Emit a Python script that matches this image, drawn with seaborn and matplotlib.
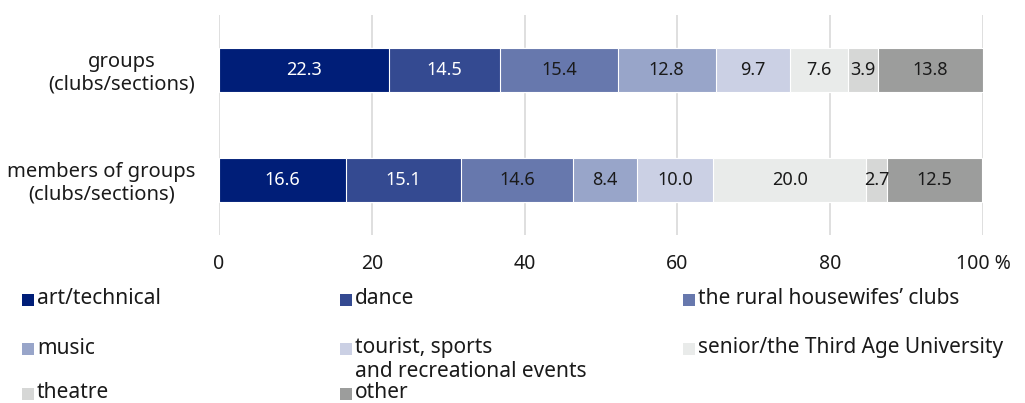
import matplotlib
matplotlib.use("Agg")
import matplotlib.pyplot as plt
import seaborn as sns
import pandas as pd
import numpy as np
from matplotlib.patches import Rectangle

rows = ["groups\n(clubs/sections)", "members of groups\n(clubs/sections)"]
series = ["art/technical", "dance", "the rural housewifes’ clubs", "music",
          "tourist, sports\nand recreational events", "senior/the Third Age University",
          "theatre", "other"]
groups_vals = [22.3, 14.5, 15.4, 12.8, 9.7, 7.6, 3.9, 13.8]
members_vals = [16.6, 15.1, 14.6, 8.4, 10.0, 20.0, 2.7, 12.5]
colors = ["#001e78", "#344a91", "#6778ad", "#98a5c9", "#cbd0e4", "#e9ebea", "#d6d7d6", "#9c9d9c"]
text_colors = ["white", "white", "#1a1a1a", "#1a1a1a", "#1a1a1a", "#1a1a1a", "#1a1a1a", "#1a1a1a"]
xticks = [0, 20, 40, 60, 80, 100]
xticklabels = ["0", "20", "40", "60", "80", "100 %"]

sns.set_theme(style="white")
plt.rcParams["font.family"] = ["Noto Sans", "DejaVu Sans"]

vals = np.array([groups_vals, members_vals])
cum = vals.cumsum(axis=1)

fig = plt.figure(figsize=(10.25, 4.03), dpi=100)
ax = fig.add_axes([219/1025, 1-235/403, (983-219)/1025, 220/403])

for i in reversed(range(len(series))):
    df = pd.DataFrame({"row": rows, "value": cum[:, i]})
    sns.barplot(data=df, x="value", y="row", color=colors[i], width=0.4,
                edgecolor="white", linewidth=0.8, saturation=1, ax=ax, zorder=2)

for r in range(len(rows)):
    for i in range(len(series)):
        ax.text(cum[r, i] - vals[r, i]/2, r, f"{vals[r, i]:.1f}", ha="center", va="center",
                color=text_colors[i], fontsize=13, zorder=3)

ax.set_xlim(0, 100)
ax.set_ylim(1.5, -0.5)
ax.set_xticks(xticks)
ax.set_xticklabels(xticklabels, fontsize=14, color="#1a1a1a")
ax.tick_params(axis="x", length=0, pad=14)
ax.tick_params(axis="y", length=0, pad=17)
for lab in ax.get_yticklabels():
    lab.set_multialignment("center")
    lab.set_fontsize(14.5)
    lab.set_color("#1a1a1a")
    lab.set_linespacing(1.15)
ax.set_xlabel("")
ax.set_ylabel("")
ax.grid(axis="x", color="#d9d9d9", linewidth=1.2, zorder=0)
ax.set_axisbelow(True)
for s in ax.spines.values():
    s.set_visible(False)

# legend laid out as grid
col_x = [22, 340, 683]
row_y = [300, 349, 394]
W, H = 1025, 403
for k, name in enumerate(series):
    r, c = divmod(k, 3)
    x = col_x[c]; y = row_y[r]
    fig.patches.append(Rectangle((x/W, 1-(y+6)/H), 12/W, 12/H, transform=fig.transFigure,
                                 facecolor=colors[k], edgecolor="none"))
    if "\n" in name:
        fig.text((x+15)/W, 1-(y-12)/H, name, ha="left", va="top",
                 fontsize=15, color="#1a1a1a", linespacing=1.2)
    else:
        fig.text((x+15)/W, 1-(y-1)/H, name, ha="left", va="center",
                 fontsize=15, color="#1a1a1a")

fig.savefig("out.png", dpi=100)
